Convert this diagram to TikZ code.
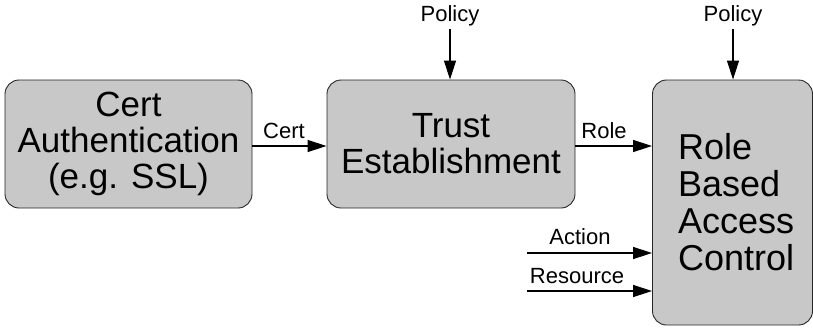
\documentclass[tikz,border=0pt]{standalone}
\usepackage{fontspec}
\setmainfont{Liberation Sans}
\usepackage{xcolor}
\usetikzlibrary{positioning, arrows.meta}

\definecolor{boxgray}{RGB}{200,200,200}

\begin{document}
\begin{tikzpicture}[
    x=1pt, y=-1pt,
    block/.style={rectangle, draw=black!85, line width=0.9pt, fill=boxgray, rounded corners=14pt, align=center, font=\fontsize{35}{36}\selectfont},
    flow/.style={-{Triangle[length=19pt,width=12pt]}, line width=1.2pt},
    lbl/.style={font=\fontsize{22}{24}\selectfont, inner sep=0pt}
]
\useasboundingbox (0,0) rectangle (813,330);

\node[block, minimum width=247pt, minimum height=128pt] (auth) at (128.5,144) {Cert\\Authentication\\(e.g. SSL)};
\node[block, minimum width=248pt, minimum height=128pt] (trust) at (451,144) {Trust\\Establishment};
\node[block, minimum width=160pt, minimum height=245pt, align=left, text width=109pt, font=\fontsize{36}{37}\selectfont] (rbac) at (732.5,202.5) {Role\\Based\\Access\\Control};

\node[lbl] (pol1) at (450,16) {Policy};
\node[lbl] (pol2) at (733,16) {Policy};
\node[lbl] (cert) at (284,131) {Cert};
\node[lbl] (role) at (604,131) {Role};
\node[lbl] (act) at (580,237) {Action};
\node[lbl] (res) at (577,276) {Resource};

\coordinate (actin) at (527,253);
\coordinate (resin) at (527,291);

\draw[flow] (auth.east |- 0,146) -- (trust.west |- 0,146);
\draw[flow] (trust.east |- 0,146) -- (rbac.west |- 0,146);
\draw[flow] (pol1.south |- 0,29) -- (pol1.south |- trust.north);
\draw[flow] (pol2.south |- 0,29) -- (pol2.south |- rbac.north);
\draw[flow] (actin) -- (rbac.west |- actin);
\draw[flow] (resin) -- (rbac.west |- resin);

\end{tikzpicture}
\end{document}
